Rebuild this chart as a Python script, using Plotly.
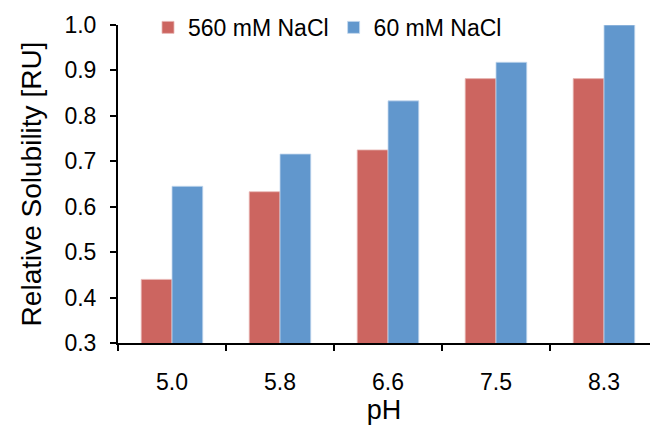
import plotly.graph_objects as go

categories = ["5.0", "5.8", "6.6", "7.5", "8.3"]
high_salt = [0.44, 0.633, 0.725, 0.882, 0.882]
low_salt = [0.645, 0.716, 0.833, 0.918, 1.0]
series_names = ["560 mM NaCl", "60 mM NaCl"]
y_ticks = [0.3, 0.4, 0.5, 0.6, 0.7, 0.8, 0.9, 1.0]

font = "Liberation Sans, Arial, Helvetica, sans-serif"

fig = go.Figure()
fig.add_trace(go.Bar(x=categories, y=high_salt, name=series_names[0],
                     marker=dict(color="#cc6560", line=dict(color="#e8b8b5", width=0.8))))
fig.add_trace(go.Bar(x=categories, y=low_salt, name=series_names[1],
                     marker=dict(color="#6197cd", line=dict(color="#c5d9ef", width=0.8))))

fig.update_layout(
    width=650, height=430,
    margin=dict(l=118, r=0, t=25, b=87),
    plot_bgcolor="white", paper_bgcolor="white",
    barmode="group", bargap=0.43, bargroupgap=0,
    font=dict(family=font, color="black"),
    legend=dict(orientation="h", x=0.0564, y=1.06, xanchor="left", yanchor="top",
                font=dict(size=23, family=font), bgcolor="rgba(0,0,0,0)",
                itemwidth=30, tracegroupgap=0),
    xaxis=dict(
        range=[-0.5, 4.426], showline=True, linecolor="black", linewidth=2,
        ticks="outside", tickson="boundaries", ticklen=6, tickwidth=1.5, tickcolor="black",
        tickfont=dict(size=23), ticklabelstandoff=17,
        title=dict(text="pH", font=dict(size=27), standoff=2),
        showgrid=False, zeroline=False,
    ),
    yaxis=dict(
        range=[0.3, 1.0], tickvals=y_ticks, ticktext=[f"{v:.1f}" for v in y_ticks],
        showline=True, linecolor="black", linewidth=2,
        ticks="outside", ticklen=6, tickwidth=1.5, tickcolor="black",
        tickfont=dict(size=23), ticklabelstandoff=9,
        title=dict(text="Relative Solubility [RU]", font=dict(size=28), standoff=15),
        showgrid=False, zeroline=False,
    ),
)

fig.write_html("out.html")
